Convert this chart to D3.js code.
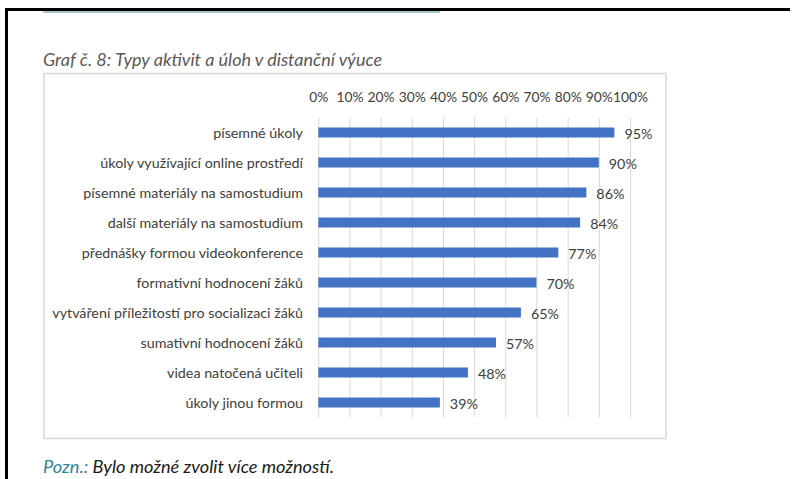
<!DOCTYPE html>
<html>
<head>
<meta charset="utf-8">
<script src="https://cdn.jsdelivr.net/npm/d3@7"></script>
<style>
  body { margin: 0; background: #fff; }
  svg { display: block; }
</style>
</head>
<body>
<div class="chart"></div>
<script>
// values
const categories = [
  "písemné úkoly",
  "úkoly využívající online prostředí",
  "písemné materiály na samostudium",
  "další materiály na samostudium",
  "přednášky formou videokonference",
  "formativní hodnocení žáků",
  "vytváření příležitostí pro socializaci žáků",
  "sumativní hodnocení žáků",
  "videa natočená učiteli",
  "úkoly jinou formou"
];
const values = [0.95, 0.90, 0.86, 0.84, 0.77, 0.70, 0.65, 0.57, 0.48, 0.39];
const tickValues = [0, 0.1, 0.2, 0.3, 0.4, 0.5, 0.6, 0.7, 0.8, 0.9, 1];

const data = categories.map((c, i) => ({ name: c, value: values[i] }));

const width = 799, height = 479;
const font = "Lato, 'Open Sans', sans-serif";

const svg = d3.select('.chart')
  .append('svg')
  .attr('width', width)
  .attr('height', height)
  .style('font-family', font);

svg.append('rect').attr('width', width).attr('height', height).attr('fill', '#fff');

// page frame (scan edge)
svg.append('line').attr('x1', 5).attr('x2', 790).attr('y1', 9.5).attr('y2', 9.5)
  .attr('stroke', '#000').attr('stroke-width', 3);
svg.append('line').attr('x1', 6.5).attr('x2', 6.5).attr('y1', 8).attr('y2', height)
  .attr('stroke', '#000').attr('stroke-width', 3);
svg.append('line').attr('x1', 43).attr('x2', 440).attr('y1', 12).attr('y2', 12)
  .attr('stroke', '#a9c6c9').attr('stroke-width', 2);

// title
svg.append('text')
  .attr('x', 43).attr('y', 66)
  .attr('font-size', 18)
  .attr('font-style', 'italic')
  .attr('fill', '#595959')
  .text('Graf č. 8: Typy aktivit a úloh v distanční výuce');

// chart box
svg.append('rect')
  .attr('x', 44).attr('y', 73.5)
  .attr('width', 622).attr('height', 365)
  .attr('fill', 'none')
  .attr('stroke', '#d9d9d9').attr('stroke-width', 1.5);

const x = d3.scaleLinear().domain([0, 1]).range([318.3, 630]);
const y = d3.scaleBand().domain(categories).range([117.5, 417.5])
  .paddingInner(2 / 3).paddingOuter(1 / 3);

// gridlines
const grid = svg.append('g')
  .attr('transform', `translate(0,${y.range()[1]})`)
  .call(d3.axisBottom(x).tickValues(tickValues).tickSize(-(y.range()[1] - y.range()[0])).tickFormat(''));
grid.select('.domain').remove();
grid.selectAll('.tick line').attr('stroke', '#d9d9d9').attr('stroke-width', 1);

// top axis labels
const axisTop = svg.append('g')
  .attr('transform', `translate(0,${y.range()[0]})`)
  .call(d3.axisTop(x).tickValues(tickValues).tickSize(0).tickPadding(16).tickFormat(d3.format('.0%')));
axisTop.select('.domain').remove();
axisTop.selectAll('text')
  .attr('font-family', font)
  .attr('font-size', 13.8)
  .attr('fill', '#404040');

// bars
svg.selectAll('rect.bar')
  .data(data)
  .enter()
  .append('rect')
  .attr('class', 'bar')
  .attr('x', x(0))
  .attr('y', d => y(d.name))
  .attr('width', d => x(d.value) - x(0))
  .attr('height', y.bandwidth())
  .attr('fill', '#4472c4');

// category labels
svg.selectAll('text.labels')
  .data(data)
  .enter()
  .append('text')
  .attr('class', 'labels')
  .text(d => d.name)
  .attr('x', 303)
  .attr('y', d => y(d.name) + y.bandwidth() / 2)
  .attr('dy', '0.35em')
  .attr('text-anchor', 'end')
  .attr('font-size', 14.3)
  .attr('fill', '#404040');

// value labels
svg.selectAll('text.values')
  .data(data)
  .enter()
  .append('text')
  .attr('class', 'values')
  .text(d => d3.format('.0%')(d.value))
  .attr('x', d => x(d.value) + 10)
  .attr('y', d => y(d.name) + y.bandwidth() / 2 + 1)
  .attr('dy', '0.35em')
  .attr('font-size', 14.3)
  .attr('fill', '#404040');

// footnote
const note = svg.append('text')
  .attr('x', 43).attr('y', 473)
  .attr('font-size', 18.2)
  .attr('font-style', 'italic');
note.append('tspan').attr('fill', '#31859c').text('Pozn.:');
note.append('tspan').attr('fill', '#1a1a1a').text(' Bylo možné zvolit více možností.');
</script>
</body>
</html>
